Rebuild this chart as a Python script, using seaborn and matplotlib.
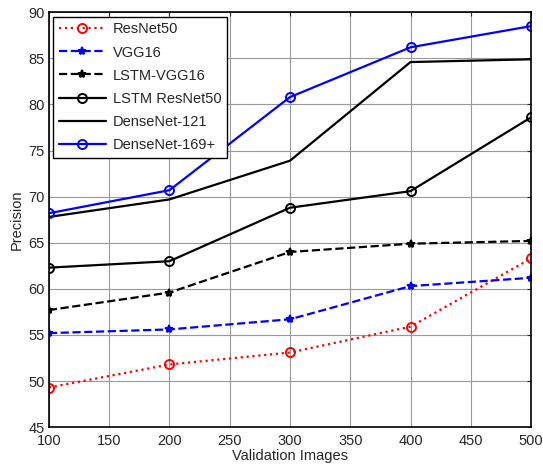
import matplotlib as mpl
mpl.use("Agg")
import matplotlib.pyplot as plt
import seaborn as sns
import pandas as pd

sns.set_style("white")
plt.rcParams["font.family"] = ["Liberation Sans", "DejaVu Sans"]

images = [100, 200, 300, 400, 500]
resnet50 = [49.3, 51.8, 53.1, 55.9, 63.3]
vgg16 = [55.2, 55.6, 56.7, 60.3, 61.2]
lstm_vgg16 = [57.7, 59.6, 64.0, 64.9, 65.2]
lstm_resnet50 = [62.3, 63.0, 68.8, 70.6, 78.6]
densenet121 = [67.8, 69.7, 73.9, 84.6, 84.9]
densenet169 = [68.2, 70.7, 80.8, 86.2, 88.5]

series = [
    ("ResNet50", resnet50, "red", ":", "o", "none", 6.5),
    ("VGG16", vgg16, "blue", "--", "*", "blue", 6),
    ("LSTM-VGG16", lstm_vgg16, "black", "--", "*", "black", 6),
    ("LSTM ResNet50", lstm_resnet50, "black", "-", "o", "none", 6.5),
    ("DenseNet-121", densenet121, "black", "-", None, "none", 6),
    ("DenseNet-169+", densenet169, "blue", "-", "o", "none", 6.5),
]

fig, ax = plt.subplots(figsize=(5.43, 4.72), dpi=100)
fig.subplots_adjust(left=0.09, right=0.978, top=0.974, bottom=0.095)

for name, vals, col, ls, mk, mfc, ms in series:
    df = pd.DataFrame({"x": images, "y": vals})
    sns.lineplot(data=df, x="x", y="y", ax=ax, color=col, linestyle=ls,
                 marker=mk, markersize=ms, markerfacecolor=mfc,
                 markeredgecolor=col, markeredgewidth=1.4, linewidth=1.6,
                 label=name)

ax.set_xlim(100, 500)
ax.set_ylim(45, 90)
ax.set_xticks(range(100, 501, 50))
ax.set_yticks(range(45, 91, 5))
ax.grid(True, color="#999999", linewidth=0.8)
ax.tick_params(direction="in", top=True, right=True, labelsize=10.5, length=3)
ax.tick_params(axis="x", pad=5)
ax.tick_params(axis="y", pad=3)
for s in ax.spines.values():
    s.set_color("black")
    s.set_linewidth(1.2)
ax.set_xlabel("Validation Images", fontsize=10.5, labelpad=1)
ax.set_ylabel("Precision", fontsize=10.5, labelpad=3)

leg = ax.legend(loc="upper left", fontsize=10.5, frameon=True, fancybox=False,
                edgecolor="black", framealpha=1, handlelength=3.2,
                borderaxespad=0.3, labelspacing=0.62, borderpad=0.4,
                handletextpad=0.5)
leg.get_frame().set_linewidth(1.0)

fig.savefig("out.png", dpi=100)
